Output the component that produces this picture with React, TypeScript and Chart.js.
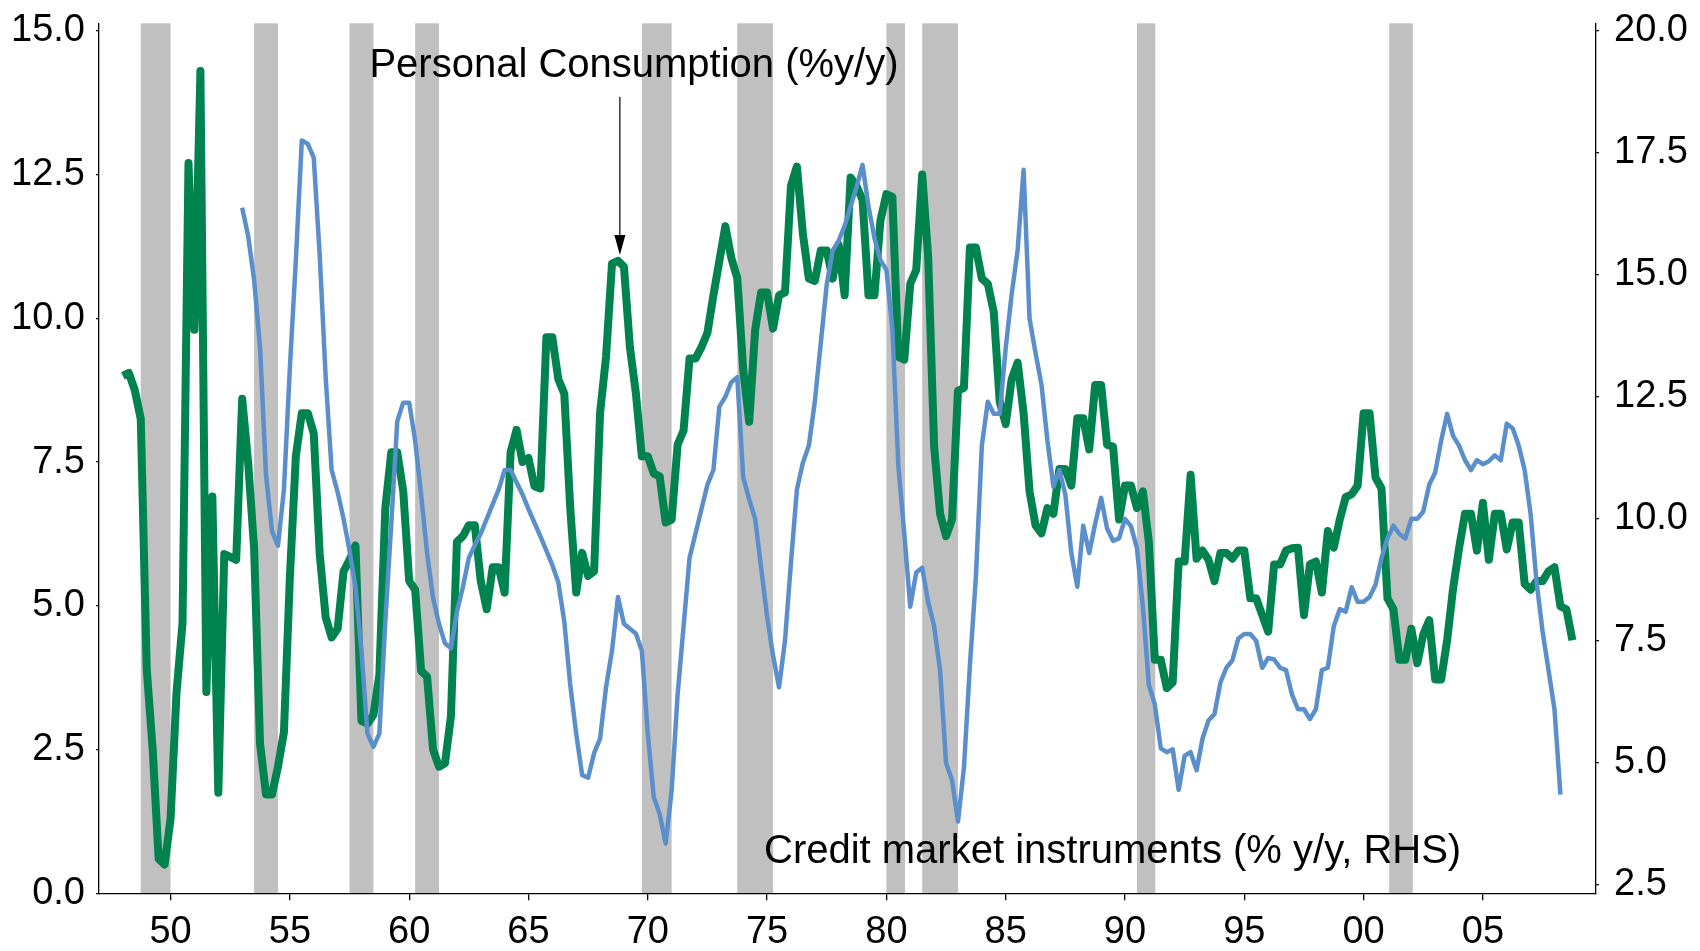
import React, { useEffect, useRef } from 'react';
import { Chart, registerables } from 'chart.js';

Chart.register(...registerables);

// ---- Data (quarterly) ----
const consumptionStart = 1948.0; // first quarter of green series
const consumption = [
  9.0, 9.05, 8.75, 8.25,
  3.9, 2.5, 0.6, 0.5,
  1.3, 3.5, 4.7, 12.7,
  9.8, 14.3, 3.5, 6.9,
  1.75, 5.9, 5.85, 5.8,
  8.6, 7.5, 6.0, 2.6,
  1.72, 1.72, 2.2, 2.8,
  5.5, 7.6, 8.35, 8.35,
  8.0, 5.9, 4.8, 4.45,
  4.6, 5.6, 5.8, 6.05,
  3.0, 2.95, 3.1, 3.8,
  6.7, 7.67, 7.67, 7.0,
  5.43, 5.28, 3.87, 3.77,
  2.5, 2.2, 2.26, 3.08,
  6.11, 6.21, 6.4, 6.4,
  5.43, 4.94, 5.67, 5.67,
  5.23, 7.67, 8.06, 7.5,
  7.57, 7.08, 7.04, 9.67,
  9.67, 8.94, 8.69, 6.7,
  5.23, 5.92, 5.52, 5.6,
  8.35, 9.33, 10.95, 11.0,
  10.9, 9.5, 8.7, 7.6,
  7.6, 7.3, 7.25, 6.45,
  6.5, 7.8, 8.05, 9.3,
  9.3, 9.5, 9.75, 10.4,
  11.0, 11.6, 11.05, 10.7,
  9.1, 8.2, 9.8, 10.45,
  10.45, 9.82, 10.4, 10.45,
  12.3, 12.64, 11.47, 10.69,
  10.65, 11.18, 11.18, 10.69,
  11.28, 10.4, 12.45, 12.3,
  12.06, 10.4, 10.4, 11.7,
  12.16, 12.11, 9.33, 9.28,
  10.6, 10.84, 12.5, 11.08,
  7.77, 6.6, 6.21, 6.5,
  8.74, 8.79, 11.23, 11.23,
  10.69, 10.6, 10.11, 8.55,
  8.16, 8.94, 9.23, 8.35,
  6.99, 6.4, 6.26, 6.7,
  6.6, 7.38, 7.38, 7.09,
  8.26, 8.26, 7.72, 8.84,
  8.84, 7.8, 7.77, 6.5,
  7.09, 7.09, 6.7, 6.99,
  6.11, 4.06, 4.06, 3.57,
  3.67, 5.77, 5.77, 7.28,
  5.82, 5.96, 5.8, 5.43,
  5.92, 5.92, 5.82, 5.96,
  5.96, 5.13, 5.13, 4.84,
  4.55, 5.72, 5.72, 5.96,
  6.0, 6.01, 4.84, 5.72,
  5.77, 5.23, 6.3, 6.01,
  6.5, 6.89, 6.94, 7.09,
  8.35, 8.35, 7.23, 7.04,
  5.13, 4.94, 4.06, 4.06,
  4.6, 4.0, 4.5, 4.75,
  3.72, 3.72, 4.4, 5.3,
  6.0, 6.6, 6.6, 5.96,
  6.79, 5.8, 6.6, 6.6,
  5.98, 6.45, 6.45, 5.38,
  5.28, 5.43, 5.43, 5.6,
  5.67, 4.99, 4.94, 4.4,
];

const creditStart = 1953.0; // first quarter of blue series
const credit = [
  16.37, 15.8, 14.9, 13.5,
  10.9, 9.75, 9.45, 10.6,
  13.1, 15.3, 17.75, 17.68,
  17.4, 15.4, 12.9, 11.0,
  10.55, 10.0, 9.35, 8.6,
  7.3, 5.6, 5.33, 5.6,
  7.9, 9.9, 12.0, 12.38,
  12.38, 11.6, 10.5, 9.3,
  8.38, 7.85, 7.45, 7.35,
  8.1, 8.6, 9.2, 9.46,
  9.7, 10.0, 10.3, 10.6,
  11.0, 11.0, 10.75, 10.5,
  10.2, 9.92, 9.64, 9.35,
  9.05, 8.7, 7.9, 6.6,
  5.6, 4.75, 4.7, 5.2,
  5.5, 6.55, 7.3, 8.4,
  7.85, 7.75, 7.65, 7.3,
  5.6, 4.3, 3.95, 3.35,
  4.44, 6.4, 7.8, 9.2,
  9.7, 10.2, 10.7, 11.0,
  12.3, 12.5, 12.8, 12.9,
  10.85, 10.4, 10.0, 9.0,
  8.0, 7.2, 6.55, 7.5,
  9.1, 10.6, 11.15, 11.5,
  12.4, 13.6, 14.8, 15.5,
  15.7, 16.0, 16.4, 16.8,
  17.25, 16.4, 15.75, 15.3,
  15.1, 13.9, 11.1, 9.7,
  8.2, 8.9, 9.0, 8.3,
  7.8, 6.9, 5.0, 4.65,
  3.8, 4.9, 7.0, 8.8,
  11.5, 12.4, 12.15, 12.15,
  13.5, 14.6, 15.5, 17.15,
  14.1, 13.4, 12.75, 11.6,
  10.66, 11.0, 10.5, 9.3,
  8.61, 9.86, 9.3, 9.9,
  10.43, 9.8, 9.55, 9.6,
  10.0, 9.85, 9.4, 8.2,
  6.6, 6.2, 5.3, 5.22,
  5.28, 4.45, 5.15, 5.22,
  4.85, 5.5, 5.87, 6.0,
  6.65, 6.95, 7.1, 7.55,
  7.64, 7.64, 7.5, 6.95,
  7.15, 7.12, 6.95, 6.9,
  6.4, 6.1, 6.1, 5.9,
  6.1, 6.9, 6.95, 7.8,
  8.15, 8.1, 8.6, 8.3,
  8.3, 8.4, 8.65, 9.2,
  9.6, 9.86, 9.69, 9.6,
  10.0, 10.0, 10.15, 10.7,
  10.95, 11.6, 12.15, 11.7,
  11.5, 11.2, 11.0, 11.2,
  11.12, 11.18, 11.3, 11.2,
  11.95, 11.85, 11.5, 11.0,
  10.1, 8.7, 7.7, 6.9,
  6.1, 4.35,
];

const recessionStart = [1948.75, 1953.5, 1957.5, 1960.25, 1969.75, 1973.75, 1980.0, 1981.5, 1990.5, 2001.07];
const recessionEnd = [1950.0, 1954.5, 1958.5, 1961.25, 1971.0, 1975.25, 1980.78, 1983.0, 1991.27, 2002.06];

const xTickYears = [1950, 1955, 1960, 1965, 1970, 1975, 1980, 1985, 1990, 1995, 2000, 2005];
const xTickLabels = ['50', '55', '60', '65', '70', '75', '80', '85', '90', '95', '00', '05'];
const leftTicks = [0, 2.5, 5, 7.5, 10, 12.5, 15];
const rightTicks = [2.5, 5, 7.5, 10, 12.5, 15, 17.5, 20];

const GREEN = '#00834E';
const BLUE = '#5A8FCB';
const GRAY = '#C0C0C0';
const FONT = '"Liberation Sans", Arial, Helvetica, sans-serif';

const toPoints = (start: number, values: number[]) =>
  values.map((v, i) => ({ x: start + i * 0.25, y: v }));

const recessionPlugin = {
  id: 'recessions',
  beforeDraw(chart: any) {
    const { ctx, chartArea, scales } = chart;
    const xs = scales.x;
    ctx.save();
    ctx.fillStyle = GRAY;
    recessionStart.forEach((s, i) => {
      const x1 = xs.getPixelForValue(s);
      const x2 = xs.getPixelForValue(recessionEnd[i]);
      ctx.fillRect(x1, chartArea.top, x2 - x1, chartArea.bottom - chartArea.top);
    });
    ctx.restore();
  },
};

const notesPlugin = {
  id: 'notes',
  afterDatasetsDraw(chart: any) {
    const { ctx, scales } = chart;
    const xs = scales.x;
    const ys = scales.y;
    ctx.save();
    ctx.fillStyle = '#000';
    ctx.strokeStyle = '#000';
    ctx.font = `40px ${FONT}`;
    ctx.textBaseline = 'alphabetic';
    ctx.textAlign = 'center';
    ctx.fillText('Personal Consumption (%y/y)', xs.getPixelForValue(1969.42), ys.getPixelForValue(14.19));
    ctx.textAlign = 'left';
    ctx.fillText('Credit market instruments (% y/y, RHS)', xs.getPixelForValue(1974.87), ys.getPixelForValue(0.52));

    const ax = xs.getPixelForValue(1968.83);
    const ay0 = ys.getPixelForValue(13.85);
    const ay1 = ys.getPixelForValue(11.1);
    ctx.lineWidth = 1.2;
    ctx.beginPath();
    ctx.moveTo(ax, ay0);
    ctx.lineTo(ax, ay1 - 18);
    ctx.stroke();
    ctx.beginPath();
    ctx.moveTo(ax - 5.5, ay1 - 20);
    ctx.lineTo(ax + 5.5, ay1 - 20);
    ctx.lineTo(ax, ay1);
    ctx.closePath();
    ctx.fill();
    ctx.restore();
  },
};

const clearPadding = (s: any) => {
  s.paddingTop = 0;
  s.paddingBottom = 0;
  s.paddingLeft = 0;
  s.paddingRight = 0;
};

export default function App() {
  const ref = useRef<HTMLCanvasElement | null>(null);

  useEffect(() => {
    if (!ref.current) return;
    const tickFont = { family: FONT, size: 38 };
    const chart = new Chart(ref.current, {
      type: 'line',
      data: {
        datasets: [
          {
            label: 'Credit market instruments (% y/y, RHS)',
            data: toPoints(creditStart, credit),
            yAxisID: 'y1',
            borderColor: BLUE,
            borderWidth: 4.5,
            pointRadius: 0,
            tension: 0,
            borderJoinStyle: 'round',
            fill: false,
            order: 0,
          },
          {
            label: 'Personal Consumption (%y/y)',
            data: toPoints(consumptionStart, consumption),
            yAxisID: 'y',
            borderColor: GREEN,
            borderWidth: 8,
            pointRadius: 0,
            tension: 0,
            borderJoinStyle: 'round',
            fill: false,
            order: 1,
          },
        ],
      },
      options: {
        animation: false,
        responsive: false,
        devicePixelRatio: 1,
        layout: { padding: { top: 23.3, left: 0, right: 0, bottom: 0 } },
        plugins: { legend: { display: false }, tooltip: { enabled: false } },
        scales: {
          x: {
            type: 'linear',
            min: 1947.0,
            max: 2009.74,
            afterBuildTicks: (s: any) => {
              s.ticks = xTickYears.map((v) => ({ value: v }));
            },
            afterFit: (s: any) => {
              s.height = 57.7;
              clearPadding(s);
            },
            ticks: {
              callback: (v: any) => xTickLabels[xTickYears.indexOf(Number(v))],
              font: tickFont,
              color: '#000',
              padding: 9,
              maxRotation: 0,
              autoSkip: false,
            },
            grid: { display: true, drawOnChartArea: false, drawTicks: true, tickLength: 7, color: '#000', lineWidth: 1.3 },
            border: { display: true, color: '#000', width: 1.3 },
          },
          y: {
            type: 'linear',
            position: 'left',
            min: 0,
            max: 15.13,
            afterBuildTicks: (s: any) => {
              s.ticks = leftTicks.map((v) => ({ value: v }));
            },
            afterFit: (s: any) => {
              s.width = 99;
              clearPadding(s);
            },
            ticks: {
              callback: (v: any) => Number(v).toFixed(1),
              font: tickFont,
              color: '#000',
              padding: 11,
            },
            grid: { display: true, drawOnChartArea: false, drawTicks: true, tickLength: 3, color: '#000', lineWidth: 1.3 },
            border: { display: true, color: '#000', width: 1.3 },
          },
          y1: {
            type: 'linear',
            position: 'right',
            min: 2.33,
            max: 20.15,
            afterBuildTicks: (s: any) => {
              s.ticks = rightTicks.map((v) => ({ value: v }));
            },
            afterFit: (s: any) => {
              s.width = 104;
              clearPadding(s);
            },
            ticks: {
              callback: (v: any) => Number(v).toFixed(1),
              font: tickFont,
              color: '#000',
              padding: 15,
            },
            grid: { display: true, drawOnChartArea: false, drawTicks: true, tickLength: 3, color: '#000', lineWidth: 1.3 },
            border: { display: true, color: '#000', width: 1.3 },
          },
        },
      },
      plugins: [recessionPlugin, notesPlugin],
    } as any);
    return () => chart.destroy();
  }, []);

  return (
    <div style={{ position: 'fixed', left: 0, top: 0, width: 1700, height: 951, background: '#fff' }}>
      <canvas ref={ref} width={1700} height={951} style={{ display: 'block', width: 1700, height: 951 }} />
    </div>
  );
}
